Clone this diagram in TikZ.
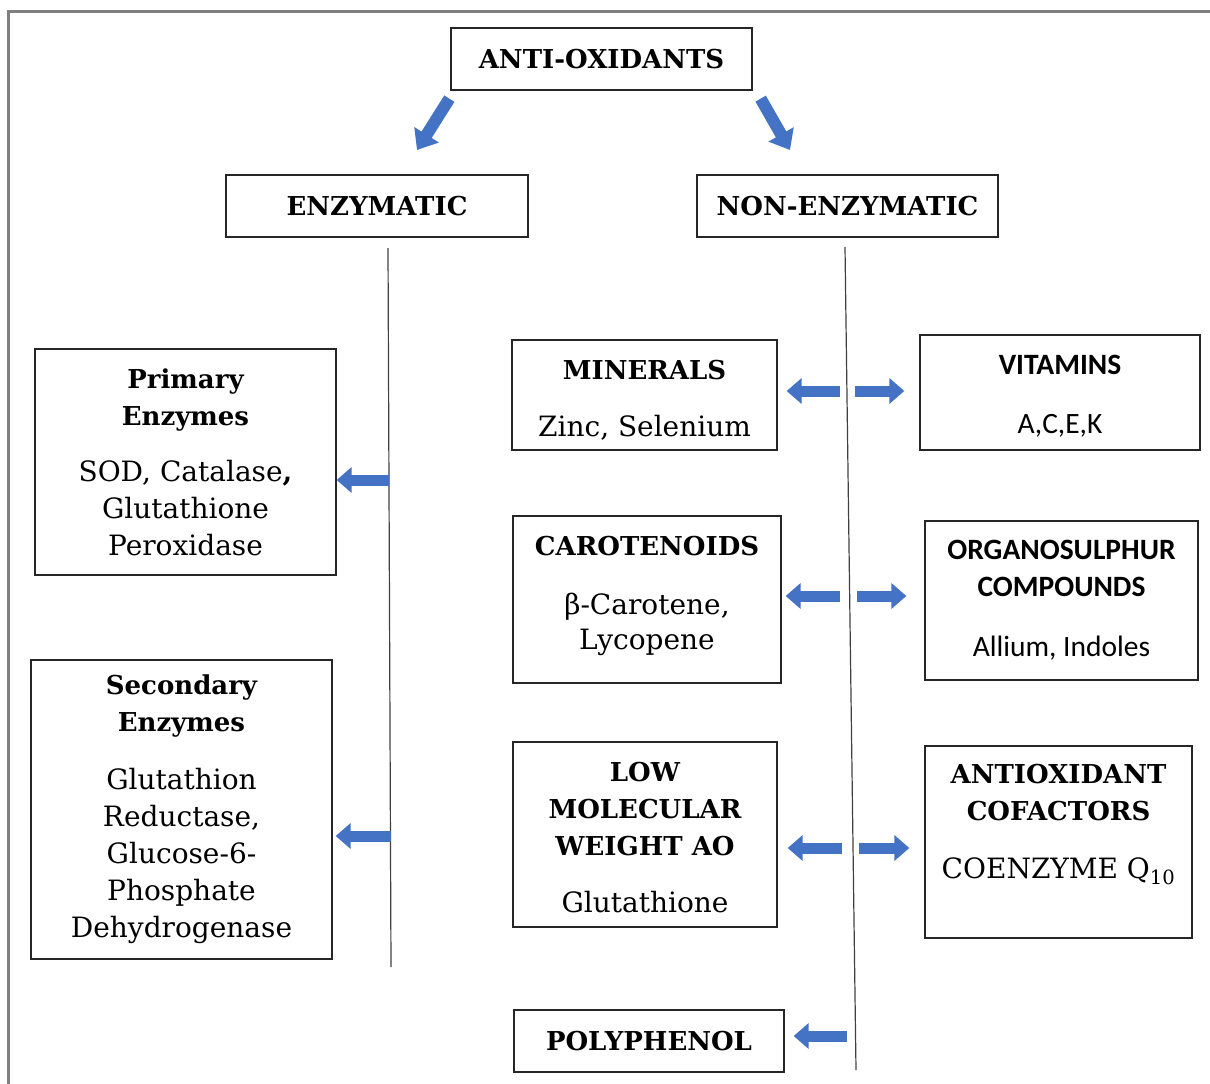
\documentclass[tikz,border=0pt]{standalone}
\usepackage{fontspec}
\setmainfont{DejaVu Serif}
\newfontfamily\clb{Carlito}
\usetikzlibrary{arrows.meta}

\definecolor{arrowblue}{HTML}{4472C4}
\definecolor{framegray}{HTML}{7F7F7F}
\newcommand\hd[1]{{\fontsize{26}{37}\selectfont\bfseries #1}}

\tikzset{
  box/.style={draw=black!85, line width=1.3pt, inner sep=0pt, align=center,
    font=\fontsize{28}{37}\selectfont},
  headbox/.style={box, font=\fontsize{26}{37}\selectfont\bfseries},
  sansbox/.style={box, font=\clb\fontsize{29.5}{37}\selectfont},
  blk/.style={arrowblue, line width=11pt, -{Triangle[width=25pt,length=15pt]}},
  stem/.style={black!75, line width=1.2pt}
}

\begin{document}
\begin{tikzpicture}[x=1pt, y=-1pt]
  \useasboundingbox (0,0) rectangle (1210,1084);
  %cornice
  \draw[framegray, line width=3pt] (8,1095) -- (8,11) -- (1220,11);

  %livello superiore
  \node[headbox, minimum width=301, minimum height=62] (anti) at (601.5,59) {ANTI-OXIDANTS};
  \node[headbox, minimum width=302, minimum height=62] (enz) at (377,206) {ENZYMATIC};
  \node[headbox, minimum width=301, minimum height=62] (nonenz) at (847.5,206) {NON-ENZYMATIC};

  \coordinate (dl) at (417,150);
  \coordinate (dr) at (790,150);
  \draw[arrowblue, line width=12pt, -{Triangle[width=28pt,length=18pt]}]
    ([xshift=-1pt,yshift=-8pt]anti.south west) -- (dl);
  \draw[arrowblue, line width=12pt, -{Triangle[width=28pt,length=18pt]}]
    ([xshift=8pt,yshift=-8pt]anti.south east) -- (dr);

  %linee verticali
  \coordinate (ltop) at (388,248);
  \coordinate (lbot) at (391,967);
  \coordinate (rtop) at (845,247);
  \coordinate (rbot) at (856,1070);
  \draw[stem] (ltop) -- (lbot);
  \draw[stem] (rtop) -- (rbot);

  %enzimatici
  \node[box, minimum width=301, minimum height=226] (prim) at (185.5,462)
    {\hd{Primary}\\ \hd{Enzymes}\\[19pt] SOD, Catalase\textbf{,}\\ Glutathione\\ Peroxidase};
  \node[box, minimum width=301, minimum height=299] (sec) at (181.5,809.5)
    {\hd{Secondary}\\ \hd{Enzymes}\\[21pt] Glutathion\\ Reductase,\\ Glucose-6-\\ Phosphate\\ Dehydrogenase};

  %non enzimatici
  \node[box, minimum width=265, minimum height=110, text height=86pt] (mine) at (644.5,395)
    {\hd{MINERALS}\\[20pt] Zinc, Selenium};
  \node[sansbox, minimum width=280, minimum height=115, text height=86pt] (vit) at (1060,392.5)
    {\textbf{VITAMINS}\\[22pt] A,C,E,K};
  \node[box, minimum width=268, minimum height=167, text depth=14pt] (caro) at (647,599.5)
    {\hd{CAROTENOIDS}\\[22pt] β-Carotene,\\[-2pt] Lycopene};
  \node[sansbox, minimum width=273, minimum height=159] (org) at (1061.5,600.5)
    {\textbf{ORGANOSULPHUR}\\ \textbf{COMPOUNDS}\\[23pt] Allium, Indoles};
  \node[box, minimum width=264, minimum height=185, text height=156pt] (lmw) at (645,834.5)
    {\hd{LOW}\\ \hd{MOLECULAR}\\ \hd{WEIGHT AO}\\[20pt] Glutathione};
  \node[box, minimum width=267, minimum height=192, text depth=42pt] (cof) at (1058.5,842)
    {\hd{ANTIOXIDANT}\\ \hd{COFACTORS}\\[21pt] COENZYME Q\textsubscript{10}};
  \node[headbox, minimum width=270, minimum height=62] (poly) at (649,1041) {POLYPHENOL};

  %frecce
  \coordinate (e1) at (389,480);
  \coordinate (e2) at (390.5,836);
  \draw[blk] (e1) -- (e1 -| prim.east);
  \draw[blk, shorten >=3pt] (e2) -- (e2 -| sec.east);

  \coordinate (m1) at (840,391);
  \coordinate (m2) at (855,391);
  \coordinate (c1) at (840,596);
  \coordinate (c2) at (857,596);
  \coordinate (w1) at (842,848);
  \coordinate (w2) at (859,848);
  \coordinate (p1) at (847,1036);
  \draw[blk, shorten >=9pt] (m1) -- (m1 -| mine.east);
  \draw[blk, shorten >=15pt] (m2) -- (m2 -| vit.west);
  \draw[blk, shorten >=4pt] (c1) -- (c1 -| caro.east);
  \draw[blk, shorten >=18pt] (c2) -- (c2 -| org.west);
  \draw[blk, shorten >=10pt] (w1) -- (w1 -| lmw.east);
  \draw[blk, shorten >=15pt] (w2) -- (w2 -| cof.west);
  \draw[blk, shorten >=9pt] (p1) -- (p1 -| poly.east);
\end{tikzpicture}
\end{document}
